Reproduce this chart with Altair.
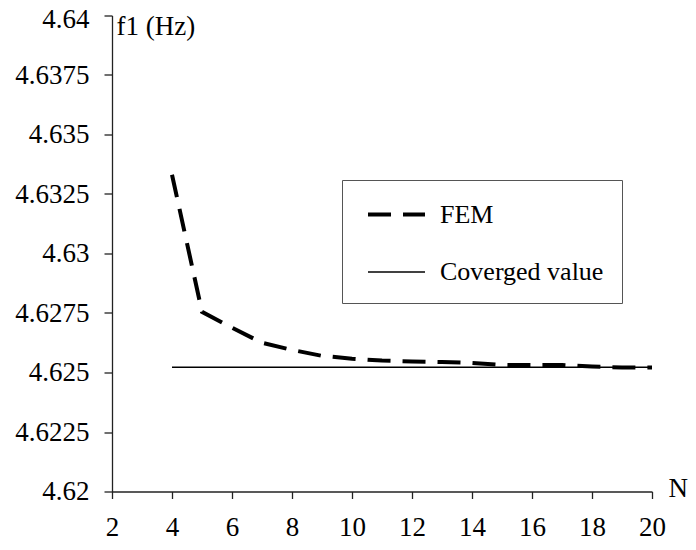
import altair as alt
import pandas as pd

# FEM results
N_fem = [4, 5, 6, 7, 8, 9, 10, 11, 12, 13, 14, 15, 16, 17, 18, 19, 20]
f_fem = [4.63331, 4.62755, 4.62688, 4.62625, 4.62595, 4.62570, 4.62558, 4.62550,
         4.62546, 4.62544, 4.62540, 4.62532, 4.62531, 4.62531, 4.62525, 4.62521, 4.62521]

# Converged value
N_conv = [4, 20]
f_conv = [4.62522, 4.62522]

series_names = ["FEM", "Coverged value"]
x_ticks = [2, 4, 6, 8, 10, 12, 14, 16, 18, 20]
y_ticks = [4.62, 4.6225, 4.625, 4.6275, 4.63, 4.6325, 4.635, 4.6375, 4.64]

rows = []
for n, f in zip(N_fem, f_fem):
    rows.append({"N": n, "f": f, "series": series_names[0]})
for n, f in zip(N_conv, f_conv):
    rows.append({"N": n, "f": f, "series": series_names[1]})
df = pd.DataFrame(rows)

FONT = "Liberation Serif"

chart = alt.Chart(df).mark_line(color="black", strokeCap="butt").encode(
    x=alt.X("N:Q",
            scale=alt.Scale(domain=[2, 20], nice=False, zero=False),
            axis=alt.Axis(values=x_ticks, title="N", titleAngle=0,
                          titleX=556, titleY=5, titleAlign="left",
                          titleBaseline="alphabetic", labelPadding=16,
                          tickSize=7)),
    y=alt.Y("f:Q",
            scale=alt.Scale(domain=[4.62, 4.64], nice=False, zero=False),
            axis=alt.Axis(values=y_ticks, format=".5~g", title="f1 (Hz)",
                          titleAngle=0, titleX=4, titleY=19, titleAlign="left",
                          titleBaseline="alphabetic", labelPadding=15,
                          tickSize=8,
                          labelOffset={"condition": {"test": "datum.value >= 4.6399",
                                                     "value": 4},
                                       "value": 0})),
    strokeDash=alt.StrokeDash("series:N",
                              scale=alt.Scale(domain=series_names,
                                              range=[[23, 12], [1, 0]]),
                              legend=alt.Legend(title=None)),
    strokeWidth=alt.StrokeWidth("series:N",
                                scale=alt.Scale(domain=series_names,
                                                range=[4, 1.4]),
                                legend=alt.Legend(title=None)),
    detail="series:N",
).properties(
    width=540,
    height=476,
    autosize="none",
    padding={"left": 104, "top": 7.5, "right": 36, "bottom": 50.5},
).configure_view(
    stroke=None
).configure_axis(
    grid=False,
    labelFont=FONT,
    titleFont=FONT,
    labelFontSize=27,
    titleFontSize=27,
    labelColor="black",
    titleColor="black",
    titleFontWeight="normal",
    domainColor="#222222",
    tickColor="#222222",
    domainWidth=1.3,
    tickWidth=1.3,
    labelFlush=False,
    labelOverlap=False,
).configure_legend(
    orient="none",
    legendX=230,
    legendY=164.5,
    strokeColor="#555555",
    padding=18,
    fillColor="white",
    labelFont=FONT,
    labelFontSize=26,
    labelColor="black",
    symbolType="M-2,0H2",
    symbolSize=812,
    symbolStrokeColor="black",
    symbolOffset=20,
    labelOffset=27,
    rowPadding=29,
    labelLimit=400,
)

chart.save("out.html", embed_options={"renderer": "svg", "actions": False})
